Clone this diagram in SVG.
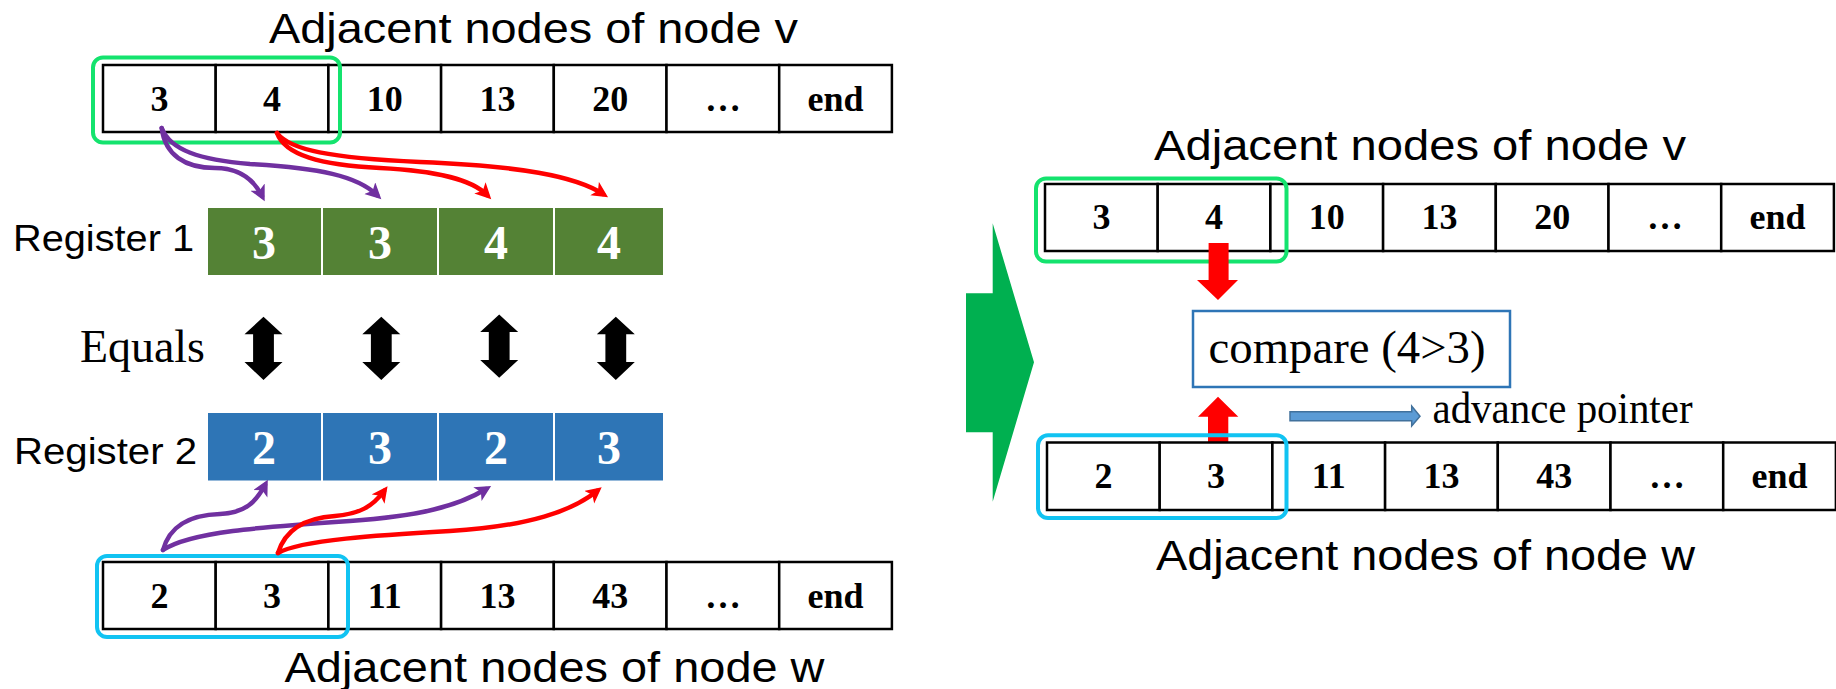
<svg xmlns="http://www.w3.org/2000/svg" width="1836" height="689" viewBox="0 0 1836 689">
  <style>
    .title { font-family: "Liberation Sans", Arial, sans-serif; font-size: 43px; fill: #000; }
    .reglabel { font-family: "Liberation Sans", Arial, sans-serif; font-size: 36px; fill: #000; }
    .cell { fill: #fff; stroke: #000; stroke-width: 2.5; }
    .celltext { font-family: "Liberation Serif", "Times New Roman", serif; font-weight: bold; font-size: 36px; text-anchor: middle; fill: #000; }
    .regtext { font-family: "Liberation Serif", "Times New Roman", serif; font-weight: bold; font-size: 48px; text-anchor: middle; fill: #fff; }
    .serif { font-family: "Liberation Serif", "Times New Roman", serif; fill: #000; }
    .reg1 { fill: #548235; stroke: #fff; stroke-width: 2; }
    .reg2 { fill: #2E75B6; stroke: #fff; stroke-width: 2; }
    .selv { fill: none; stroke: #14E36E; stroke-width: 4; }
    .selw { fill: none; stroke: #11C3F2; stroke-width: 4; }
    .link { fill: none; stroke-width: 4.5; stroke-linecap: round; }
    .purple { stroke: #7030A0; }
    .red { stroke: #FF0000; }
  </style>
  <defs>
    <marker id="headPurple" markerUnits="userSpaceOnUse" markerWidth="18" markerHeight="18" refX="10" refY="8" orient="auto">
      <path d="M0,0 L16,8 L0,16 L4,8 z" fill="#7030A0"/>
    </marker>
    <marker id="headRed" markerUnits="userSpaceOnUse" markerWidth="18" markerHeight="18" refX="10" refY="8" orient="auto">
      <path d="M0,0 L16,8 L0,16 L4,8 z" fill="#FF0000"/>
    </marker>
    <path id="dblArrow" d="M0,0 L19,17.6 L10.4,17.6 L10.4,45.4 L19,45.4 L0,63.3 L-19,45.4 L-10.4,45.4 L-10.4,17.6 L-19,17.6 z" fill="#000"/>
  </defs>

  <!-- ===== Left panel ===== -->
  <text class="title" x="269" y="43" textLength="529" lengthAdjust="spacingAndGlyphs">Adjacent nodes of node v</text>

  <g id="list-v-left">
    <rect class="cell" x="103" y="65" width="112.7" height="67"/>
    <rect class="cell" x="215.7" y="65" width="112.7" height="67"/>
    <rect class="cell" x="328.4" y="65" width="112.7" height="67"/>
    <rect class="cell" x="441.1" y="65" width="112.7" height="67"/>
    <rect class="cell" x="553.8" y="65" width="112.7" height="67"/>
    <rect class="cell" x="666.5" y="65" width="112.7" height="67"/>
    <rect class="cell" x="779.2" y="65" width="112.7" height="67"/>
    <text class="celltext" x="159.4" y="111">3</text>
    <text class="celltext" x="272" y="111">4</text>
    <text class="celltext" x="384.8" y="111">10</text>
    <text class="celltext" x="497.5" y="111">13</text>
    <text class="celltext" x="610.2" y="111">20</text>
    <text class="celltext" x="722.9" y="111">…</text>
    <text class="celltext" x="835.6" y="111">end</text>
  </g>
  <g id="select-v-left">
    <rect class="selv" x="93" y="57.5" width="247" height="85" rx="10"/>
  </g>

  <g id="register-1">
    <text class="reglabel" x="13" y="251" textLength="181" lengthAdjust="spacingAndGlyphs">Register 1</text>
    <rect class="reg1" x="207" y="207" width="115" height="69"/>
    <rect class="reg1" x="322" y="207" width="116" height="69"/>
    <rect class="reg1" x="438" y="207" width="116" height="69"/>
    <rect class="reg1" x="554" y="207" width="110" height="69"/>
    <text class="regtext" x="264" y="259">3</text>
    <text class="regtext" x="380" y="259">3</text>
    <text class="regtext" x="496" y="259">4</text>
    <text class="regtext" x="609" y="259">4</text>
  </g>

  <g id="equals">
    <text class="serif" x="80" y="362" font-size="46" textLength="125" lengthAdjust="spacingAndGlyphs">Equals</text>
    <use href="#dblArrow" x="263.5" y="316.7"/>
    <use href="#dblArrow" x="381.3" y="316.7"/>
    <use href="#dblArrow" x="499.2" y="314.5"/>
    <use href="#dblArrow" x="615.8" y="316.7"/>
  </g>

  <g id="register-2">
    <text class="reglabel" x="14" y="464" textLength="183" lengthAdjust="spacingAndGlyphs">Register 2</text>
    <rect class="reg2" x="207" y="412" width="115" height="69.5"/>
    <rect class="reg2" x="322" y="412" width="116" height="69.5"/>
    <rect class="reg2" x="438" y="412" width="116" height="69.5"/>
    <rect class="reg2" x="554" y="412" width="110" height="69.5"/>
    <text class="regtext" x="264" y="464">2</text>
    <text class="regtext" x="380" y="464">3</text>
    <text class="regtext" x="496" y="464">2</text>
    <text class="regtext" x="609" y="464">3</text>
  </g>

  <g id="list-w-left">
    <rect class="cell" x="103" y="562" width="112.7" height="67"/>
    <rect class="cell" x="215.7" y="562" width="112.7" height="67"/>
    <rect class="cell" x="328.4" y="562" width="112.7" height="67"/>
    <rect class="cell" x="441.1" y="562" width="112.7" height="67"/>
    <rect class="cell" x="553.8" y="562" width="112.7" height="67"/>
    <rect class="cell" x="666.5" y="562" width="112.7" height="67"/>
    <rect class="cell" x="779.2" y="562" width="112.7" height="67"/>
    <text class="celltext" x="159.4" y="608">2</text>
    <text class="celltext" x="272" y="608">3</text>
    <text class="celltext" x="384.8" y="608">11</text>
    <text class="celltext" x="497.5" y="608">13</text>
    <text class="celltext" x="610.2" y="608">43</text>
    <text class="celltext" x="722.9" y="608">…</text>
    <text class="celltext" x="835.6" y="608">end</text>
  </g>
  <g id="select-w-left">
    <rect class="selw" x="97" y="556" width="251" height="81" rx="10"/>
  </g>

  <text class="title" x="284.5" y="682" textLength="540" lengthAdjust="spacingAndGlyphs">Adjacent nodes of node w</text>

  <!-- broadcast links: list elements copied into register lanes -->
  <g id="connectors">
    <path class="link purple" marker-end="url(#headPurple)" d="M161.7,128 C165,155 185,168 215,168 C238,168 253,178 262,196"/>
    <path class="link purple" marker-end="url(#headPurple)" d="M161.7,128 C170,150 200,160 250,164 C320,168 357,176 377,195"/>
    <path class="link red" marker-end="url(#headRed)" d="M277,133 C285,155 320,165 380,168 C440,171 472,180 487,195"/>
    <path class="link red" marker-end="url(#headRed)" d="M277,133 C290,150 330,158 420,162 C520,166 575,176 603,194"/>

    <path class="link purple" marker-end="url(#headPurple)" d="M163,550 C170,525 190,515 220,514 C245,513 256,502 265,485"/>
    <path class="link purple" marker-end="url(#headPurple)" d="M163,550 C190,532 260,527 350,521 C420,516 458,506 486,489"/>
    <path class="link red" marker-end="url(#headRed)" d="M278,553 C285,530 305,518 335,516 C360,514 373,506 384,491"/>
    <path class="link red" marker-end="url(#headRed)" d="M278,553 C300,540 380,535 450,531 C530,526 572,511 597,491"/>
  </g>

  <!-- ===== Transition arrow ===== -->
  <g id="next-step">
    <polygon points="966,293.3 992.7,293.3 992.7,223.3 1034,362.3 992.7,501.7 992.7,432.3 966,432.3" fill="#00B050"/>
  </g>

  <!-- ===== Right panel ===== -->
  <text class="title" x="1154" y="160" font-size="44" textLength="532" lengthAdjust="spacingAndGlyphs">Adjacent nodes of node v</text>

  <g id="list-v-right">
    <rect class="cell" x="1045" y="184" width="112.7" height="67"/>
    <rect class="cell" x="1157.7" y="184" width="112.7" height="67"/>
    <rect class="cell" x="1270.4" y="184" width="112.7" height="67"/>
    <rect class="cell" x="1383.1" y="184" width="112.7" height="67"/>
    <rect class="cell" x="1495.8" y="184" width="112.7" height="67"/>
    <rect class="cell" x="1608.5" y="184" width="112.7" height="67"/>
    <rect class="cell" x="1721.2" y="184" width="112.7" height="67"/>
    <text class="celltext" x="1101.4" y="229" font-size="35">3</text>
    <text class="celltext" x="1214" y="229" font-size="35">4</text>
    <text class="celltext" x="1326.8" y="229" font-size="35">10</text>
    <text class="celltext" x="1439.5" y="229" font-size="35">13</text>
    <text class="celltext" x="1552.2" y="229" font-size="35">20</text>
    <text class="celltext" x="1664.9" y="229" font-size="35">…</text>
    <text class="celltext" x="1777.6" y="229" font-size="35">end</text>
  </g>
  <g id="select-v-right">
    <rect class="selv" x="1036" y="178.5" width="250.5" height="83" rx="10"/>
  </g>

  <g id="compare">
    <rect x="1193" y="311" width="317" height="76" fill="#fff" stroke="#2E75B6" stroke-width="2.5"/>
    <text class="serif" x="1208.6" y="363" font-size="46" textLength="277" lengthAdjust="spacingAndGlyphs">compare (4&gt;3)</text>
  </g>

  <g id="compare-inputs">
    <polygon points="1208.6,243 1228.6,243 1228.6,280 1238,280 1218,300 1197,280 1208.6,280" fill="#FF0000"/>
    <polygon points="1208,452.7 1228.3,452.7 1228.3,416.7 1238.3,416.7 1218,396.7 1198,416.7 1208,416.7" fill="#FF0000"/>
  </g>

  <g id="advance">
    <polygon points="1290,411.7 1411.7,411.7 1411.7,406 1420,416.2 1411.7,426 1411.7,420.7 1290,420.7" fill="#5B9BD5" stroke="#41719C" stroke-width="1.5"/>
    <text class="serif" x="1432.5" y="423" font-size="44" textLength="260" lengthAdjust="spacingAndGlyphs">advance pointer</text>
  </g>

  <g id="list-w-right">
    <rect class="cell" x="1047" y="442.5" width="112.7" height="67.5"/>
    <rect class="cell" x="1159.7" y="442.5" width="112.7" height="67.5"/>
    <rect class="cell" x="1272.4" y="442.5" width="112.7" height="67.5"/>
    <rect class="cell" x="1385.1" y="442.5" width="112.7" height="67.5"/>
    <rect class="cell" x="1497.8" y="442.5" width="112.7" height="67.5"/>
    <rect class="cell" x="1610.5" y="442.5" width="112.7" height="67.5"/>
    <rect class="cell" x="1723.2" y="442.5" width="112.7" height="67.5"/>
    <text class="celltext" x="1103.4" y="488" font-size="35">2</text>
    <text class="celltext" x="1216" y="488" font-size="35">3</text>
    <text class="celltext" x="1328.8" y="488" font-size="35">11</text>
    <text class="celltext" x="1441.5" y="488" font-size="35">13</text>
    <text class="celltext" x="1554.2" y="488" font-size="35">43</text>
    <text class="celltext" x="1666.9" y="488" font-size="35">…</text>
    <text class="celltext" x="1779.6" y="488" font-size="35">end</text>
  </g>
  <g id="select-w-right">
    <rect class="selw" x="1038" y="435.3" width="248.5" height="82.7" rx="10"/>
  </g>

  <text class="title" x="1156" y="570" textLength="539" lengthAdjust="spacingAndGlyphs">Adjacent nodes of node w</text>
</svg>
